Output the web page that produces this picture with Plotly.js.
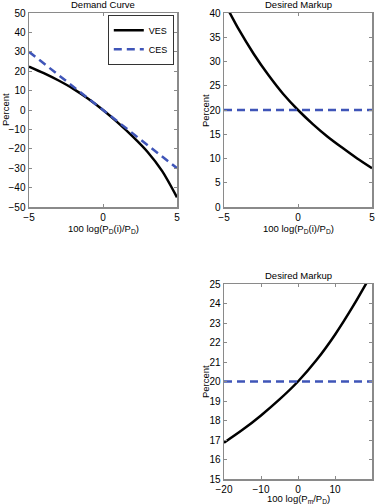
<!DOCTYPE html>
<html>
<head>
<meta charset="utf-8">
<script src="https://cdn.plot.ly/plotly-3.0.1.min.js"></script>
<style>
html,body{margin:0;padding:0;background:#fff;}
#chart{width:377px;height:504px;}
</style>
</head>
<body>
<div id="chart"></div>
<script>
// Panel 1: Demand Curve
const demandX = [-5, -4, -3, -2, -1, 0, 1, 2, 3, 4, 5];
const demandVES = [22.4, 19.0, 15.2, 10.9, 5.8, 0, -6.5, -13.6, -21.5, -31.5, -45];
const demandCES = [30, 24, 18, 12, 6, 0, -6, -12, -18, -24, -30];

// Panel 2: Desired Markup vs relative price
const markupX = [-5, -4, -3, -2, -1, 0, 1, 2, 3, 4, 5];
const markupVES = [42.3, 36.6, 31.6, 27.2, 23.3, 20.0, 17.1, 14.5, 12.2, 10.0, 8.0];
const markupCES = [20, 20, 20, 20, 20, 20, 20, 20, 20, 20, 20];

// Panel 3: Desired Markup vs import price
const importX = [-20, -15, -10, -5, 0, 5, 10, 15, 20];
const importVES = [16.86, 17.52, 18.26, 19.08, 20.0, 21.1, 22.4, 23.9, 25.55];
const importCES = [20, 20, 20, 20, 20, 20, 20, 20, 20];

const ticks1x = [-5, 0, 5];
const ticks1y = [-50, -40, -30, -20, -10, 0, 10, 20, 30, 40, 50];
const ticks2y = [0, 5, 10, 15, 20, 25, 30, 35, 40];
const ticks3x = [-20, -10, 0, 10, 20];
const ticks3y = [15, 16, 17, 18, 19, 20, 21, 22, 23, 24, 25];

const BLACK = '#000000';
const BLUE = '#3f55b8';
const W = 377, H = 504;

function axis(domain, range, ticks, anchor) {
  return {
    domain: domain, range: range, tickvals: ticks, ticktext: ticks.map(v => v < 0 ? '\u2212' + Math.abs(v) : String(v)),
    anchor: anchor, showgrid: false, zeroline: false,
    showline: true, linecolor: '#8a8a8a', linewidth: 1.5, mirror: 'allticks',
    ticks: 'inside', ticklen: 3, tickwidth: 1, tickcolor: '#8a8a8a',
    tickfont: {family: 'Liberation Sans, Arial, sans-serif', size: 10, color: '#000'},
    fixedrange: true
  };
}

const px = (x) => x / W;
const py = (y) => 1 - y / H;

const dom1x = [px(29), px(177)];
const dom2x = [px(224), px(372)];
const domTop = [py(207), py(13)];
const domBot = [py(479), py(284)];

const DASH = '8px,5px';
const traces = [
  {x: demandX, y: demandVES, xaxis: 'x', yaxis: 'y', type: 'scatter', mode: 'lines', name: 'VES',
   line: {color: BLACK, width: 2.5, shape: 'spline', smoothing: 0.8}},
  {x: demandX, y: demandCES, xaxis: 'x', yaxis: 'y', type: 'scatter', mode: 'lines', name: 'CES',
   line: {color: BLUE, width: 2.5, dash: DASH}},
  {x: markupX, y: markupVES, xaxis: 'x2', yaxis: 'y2', type: 'scatter', mode: 'lines', showlegend: false,
   line: {color: BLACK, width: 2.5, shape: 'spline', smoothing: 0.8}},
  {x: markupX, y: markupCES, xaxis: 'x2', yaxis: 'y2', type: 'scatter', mode: 'lines', showlegend: false,
   line: {color: BLUE, width: 2.5, dash: DASH}},
  {x: importX, y: importVES, xaxis: 'x3', yaxis: 'y3', type: 'scatter', mode: 'lines', showlegend: false,
   line: {color: BLACK, width: 2.5, shape: 'spline', smoothing: 0.8}},
  {x: importX, y: importCES, xaxis: 'x3', yaxis: 'y3', type: 'scatter', mode: 'lines', showlegend: false,
   line: {color: BLUE, width: 2.5, dash: DASH}}
];

const F = {family: 'Liberation Sans, Arial, sans-serif', size: 9.5, color: '#000'};

function ann(text, x, y, extra) {
  return Object.assign({text: text, x: px(x), y: py(y), xref: 'paper', yref: 'paper',
    showarrow: false, font: F, xanchor: 'center', yanchor: 'middle'}, extra || {});
}

const layout = {
  width: W, height: H,
  margin: {l: 0, r: 0, t: 0, b: 0},
  paper_bgcolor: '#fff', plot_bgcolor: '#fff',
  showlegend: true,
  legend: {x: px(174), y: py(15), xanchor: 'right', yanchor: 'top',
    bgcolor: '#fff', bordercolor: '#000', borderwidth: 0.8,
    font: {family: 'Liberation Sans, Arial, sans-serif', size: 9, color: '#000'},
    tracegroupgap: 0, itemwidth: 30},
  xaxis: axis(dom1x, [-5, 5], ticks1x, 'y'),
  yaxis: axis(domTop, [-50, 50], ticks1y, 'x'),
  xaxis2: axis(dom2x, [-5, 5], ticks1x, 'y2'),
  yaxis2: axis(domTop, [0, 40], ticks2y, 'x2'),
  xaxis3: axis(dom2x, [-20, 20], ticks3x, 'y3'),
  yaxis3: axis(domBot, [15, 25], ticks3y, 'x3'),
  annotations: [
    ann('Demand Curve', 103, 5),
    ann('Desired Markup', 298, 5),
    ann('Desired Markup', 298, 275),
    ann('100 log(P<sub>D</sub>(i)/P<sub>D</sub>)', 103, 229),
    ann('100 log(P<sub>D</sub>(i)/P<sub>D</sub>)', 298, 229),
    ann('100 log(P<sub>m</sub>/P<sub>D</sub>)', 298, 499),
    ann('Percent', 5, 110, {textangle: -90}),
    ann('Percent', 205, 110, {textangle: -90}),
    ann('Percent', 205, 381, {textangle: -90})
  ]
};

Plotly.newPlot('chart', traces, layout, {displayModeBar: false, staticPlot: true});
</script>
</body>
</html>
